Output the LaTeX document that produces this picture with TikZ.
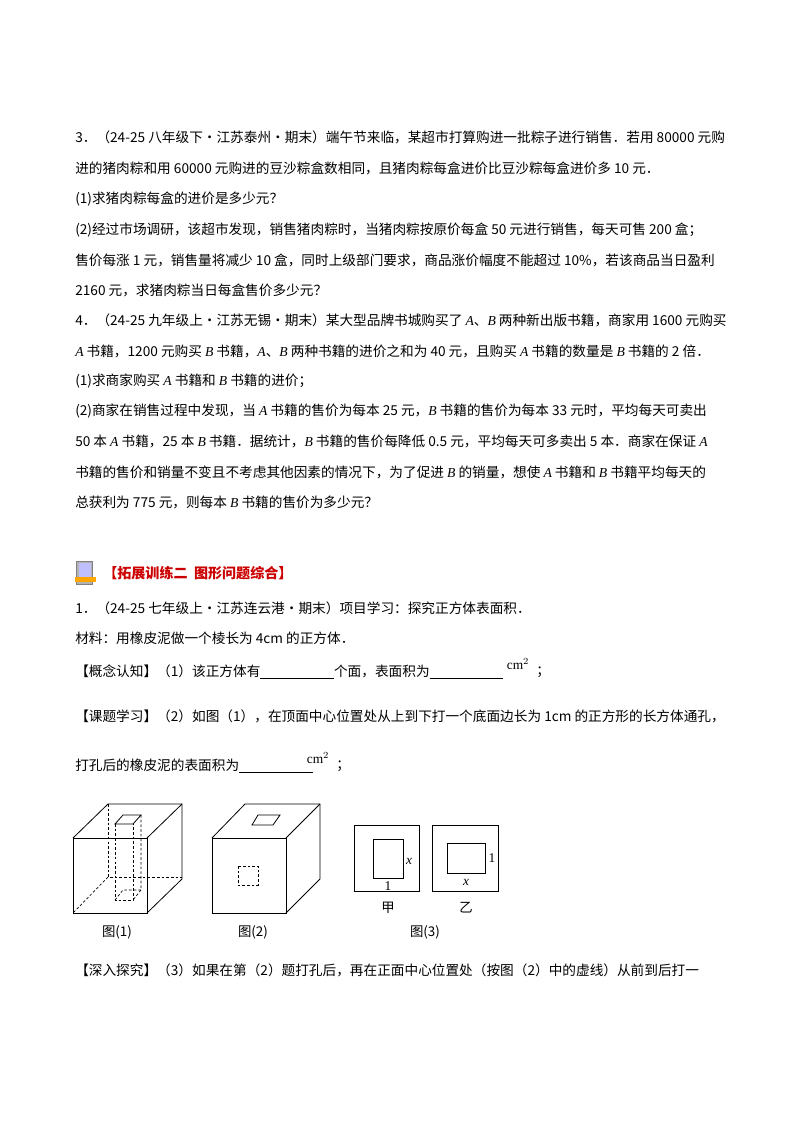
\documentclass[tikz,border=0pt]{standalone}
\usepackage{fontspec}
\setmainfont{Liberation Serif}
\newfontfamily\cjk{Noto Sans CJK SC}
\newcommand\iv[1]{{\rmfamily\itshape #1}}
\begin{document}
\begin{tikzpicture}[x=0.02625cm,y=-0.02625cm,
  tl/.style={anchor=west,inner sep=0pt,font=\cjk\fontsize{10.2pt}{12pt}\selectfont},
  ln/.style={line width=0.6pt},
  dl/.style={line width=0.5pt,dash pattern=on 2pt off 1.5pt},
  lab/.style={inner sep=0pt,font=\fontsize{10pt}{12pt}\selectfont}]
\useasboundingbox[fill=white] (0,0) rectangle (800,1132);
\node[tl] (t1) at (75,137) {3．（24-25 八年级下·江苏泰州·期末）端午节来临，某超市打算购进一批粽子进行销售．若用 80000 元购};
\node[tl] (t2) at (75,168) {进的猪肉粽和用 60000 元购进的豆沙粽盒数相同，且猪肉粽每盒进价比豆沙粽每盒进价多 10 元．};
\node[tl] (t3) at (75,199) {(1)求猪肉粽每盒的进价是多少元？};
\node[tl] (t4) at (75,230) {(2)经过市场调研，该超市发现，销售猪肉粽时，当猪肉粽按原价每盒 50 元进行销售，每天可售 200 盒；};
\node[tl] (t5) at (75,260) {售价每涨 1 元，销售量将减少 10 盒，同时上级部门要求，商品涨价幅度不能超过 10\%，若该商品当日盈利};
\node[tl] (t6) at (75,290) {2160 元，求猪肉粽当日每盒售价多少元？};
\node[tl] (t7) at (75,320) {4．（24-25 九年级上·江苏无锡·期末）某大型品牌书城购买了 \iv{A}、\iv{B} 两种新出版书籍，商家用 1600 元购买};
\node[tl] (t8) at (75,351) {\iv{A} 书籍，1200 元购买 \iv{B} 书籍，\iv{A}、\iv{B} 两种书籍的进价之和为 40 元，且购买 \iv{A} 书籍的数量是 \iv{B} 书籍的 2 倍．};
\node[tl] (t9) at (75,381) {(1)求商家购买 \iv{A} 书籍和 \iv{B} 书籍的进价；};
\node[tl] (t10) at (75,411) {(2)商家在销售过程中发现，当 \iv{A} 书籍的售价为每本 25 元，\iv{B} 书籍的售价为每本 33 元时，平均每天可卖出};
\node[tl] (t11) at (75,441) {50 本 \iv{A} 书籍，25 本 \iv{B} 书籍．据统计，\iv{B} 书籍的售价每降低 0.5 元，平均每天可多卖出 5 本．商家在保证 \iv{A}};
\node[tl] (t12) at (75,472) {书籍的售价和销量不变且不考虑其他因素的情况下，为了促进 \iv{B} 的销量，想使 \iv{A} 书籍和 \iv{B} 书籍平均每天的};
\node[tl] (t13) at (75,502) {总获利为 775 元，则每本 \iv{B} 书籍的售价为多少元？};
% icon
\fill[gray!60] (76,561) rectangle (92,584);
\fill[blue!25] (79,563) rectangle (91,578);
\draw[gray] (76,561) rectangle (92,584);
\fill[orange!70!yellow] (75,577) rectangle (96,582);
\node[tl,text=red!80!black,font=\cjk\bfseries\fontsize{10.5pt}{12pt}\selectfont] (h) at (103,573) {【拓展训练二\ \ 图形问题综合】};
\node[tl] (s1) at (75,608) {1．（24-25 七年级上·江苏连云港·期末）项目学习：探究正方体表面积．};
\node[tl] (s2) at (75,638) {材料：用橡皮泥做一个棱长为 4cm 的正方体．};
\node[tl] (s3) at (75,672) {【概念认知】（1）该正方体有\underline{\hspace{55pt}}个面，表面积为\underline{\hspace{55pt}}};
\node[lab] (u1) at (518,664) {cm$^{2}$};
\node[tl] (s3b) at (536,672) {；};
\node[tl] (s4) at (75,716) {【课题学习】（2）如图（1），在顶面中心位置处从上到下打一个底面边长为 1cm 的正方形的长方体通孔，};
\node[tl] (s5) at (75,766) {打孔后的橡皮泥的表面积为\underline{\hspace{55pt}}};
\node[lab] (u2) at (318,758) {cm$^{2}$};
\node[tl] (s5b) at (336,766) {；};
% cube 1
\draw[ln] (73,838) rectangle (147,913);
\draw[ln] (73,838) -- (108,804) -- (182,804) -- (182,879) -- (147,913);
\draw[ln] (147,838) -- (182,804);
\draw[dl] (108,804) -- (108,877) -- (182,877);
\draw[dl] (108,877) -- (73,913);
\draw[ln] (115,824) -- (123,815) -- (141,815) -- (133,824) -- cycle;
\draw[dl] (115,824) -- (115,900) -- (133,900) -- (133,824);
\draw[dl] (141,815) -- (141,890) -- (133,900);
\draw[dl] (115,900) -- (123,890) -- (141,890);
\node[lab,font=\cjk\fontsize{10pt}{12pt}\selectfont] (c1) at (117,932) {图(1)};
% cube 2
\draw[ln] (212,838) rectangle (286,913);
\draw[ln] (212,838) -- (245,804) -- (320,804) -- (320,879) -- (286,913);
\draw[ln] (286,838) -- (320,804);
\draw[ln] (252,825) -- (258,815) -- (280,815) -- (273,825) -- cycle;
\draw[dl] (238,866) rectangle (258,885);
\node[lab,font=\cjk\fontsize{10pt}{12pt}\selectfont] (c2) at (253,932) {图(2)};
% fig 3
\draw[ln] (354,825) rectangle (419,891);
\draw[ln] (373,839) rectangle (403,878);
\node[lab] (x1) at (409,861) {\textit{x}};
\node[lab] (o1) at (388,886) {1};
\node[lab,font=\cjk\fontsize{10pt}{12pt}\selectfont] (j) at (388,908) {甲};
\draw[ln] (432,825) rectangle (498,891);
\draw[ln] (447,843) rectangle (485,873);
\node[lab] (o2) at (492,858) {1};
\node[lab] (x2) at (466,882) {\textit{x}};
\node[lab,font=\cjk\fontsize{10pt}{12pt}\selectfont] (y) at (466,908) {乙};
\node[lab,font=\cjk\fontsize{10pt}{12pt}\selectfont] (c3) at (425,932) {图(3)};
\node[tl] (s6) at (75,970) {【深入探究】（3）如果在第（2）题打孔后，再在正面中心位置处（按图（2）中的虚线）从前到后打一};
\end{tikzpicture}
\end{document}
